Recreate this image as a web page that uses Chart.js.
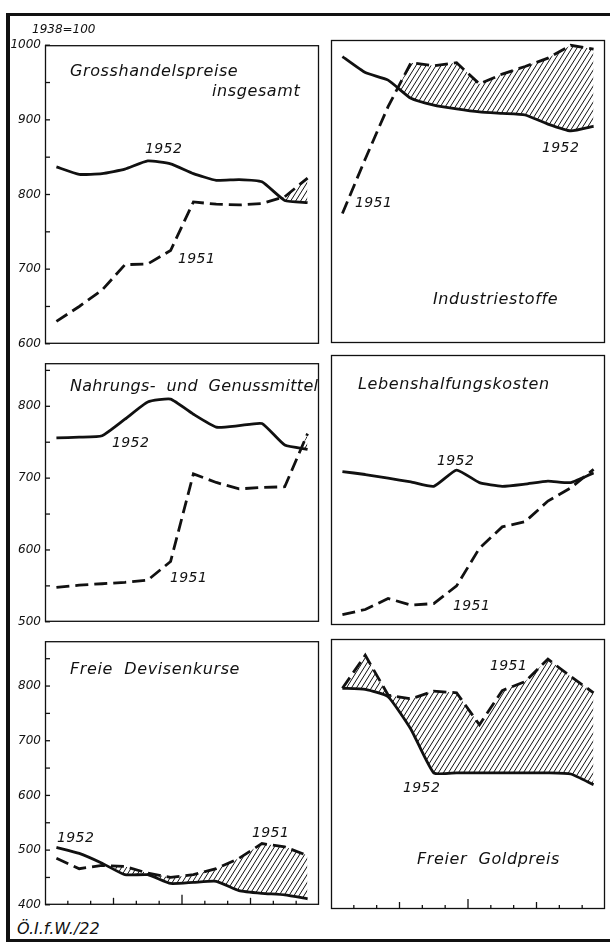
<!DOCTYPE html>
<html>
<head>
<meta charset="utf-8">
<script src="https://cdn.jsdelivr.net/npm/chart.js@4.4.0/dist/chart.umd.min.js"></script>
<style>
  body { margin: 0; background: #fff; }
  #page { position: relative; width: 610px; height: 945px; overflow: hidden; background: #fff; }
  canvas { position: absolute; }
  .bar { position: absolute; background: #111; }
  .t { position: absolute; font-family: "DejaVu Sans", sans-serif; font-style: italic; color: #111;
       white-space: pre; line-height: 1; }
  .title { font-size: 16px; letter-spacing: 0.6px; }
  .yr { font-size: 14px; letter-spacing: 0.4px; }
</style>
</head>
<body>
<div id="page">
  <div class="bar" style="left:6px;top:13px;width:604px;height:3px"></div>
  <div class="bar" style="left:6px;top:13px;width:4px;height:929px"></div>
  <div class="bar" style="left:6px;top:939px;width:604px;height:3px"></div>

  <canvas id="c1" width="320" height="321" style="left:0;top:34px"></canvas>
  <canvas id="c2" width="288" height="319" style="left:322px;top:32px"></canvas>
  <canvas id="c3" width="320" height="281" style="left:0;top:352px"></canvas>
  <canvas id="c4" width="288" height="286" style="left:322px;top:347px"></canvas>
  <canvas id="c5" width="320" height="286" style="left:0;top:630px"></canvas>
  <canvas id="c6" width="288" height="286" style="left:322px;top:631px"></canvas>

  <div class="t" style="left:32px;top:23px;font-size:12px">1938=100</div>
  <div class="t" style="left:17px;top:921px;font-size:16px">Ö.I.f.W./22</div>

  <div class="t title" style="left:70px;top:63px">Grosshandelspreise</div>
  <div class="t title" style="left:212px;top:83px">insgesamt</div>
  <div class="t title" style="left:433px;top:291px">Industriestoffe</div>
  <div class="t title" style="left:70px;top:378px;letter-spacing:0.3px">Nahrungs-  und  Genussmittel</div>
  <div class="t title" style="left:358px;top:376px">Lebenshalfungskosten</div>
  <div class="t title" style="left:70px;top:661px">Freie  Devisenkurse</div>
  <div class="t title" style="left:417px;top:851px">Freier  Goldpreis</div>

  <div class="t yr" style="left:145px;top:141px">1952</div>
  <div class="t yr" style="left:178px;top:251px">1951</div>
  <div class="t yr" style="left:542px;top:140px">1952</div>
  <div class="t yr" style="left:355px;top:195px">1951</div>
  <div class="t yr" style="left:112px;top:435px">1952</div>
  <div class="t yr" style="left:170px;top:570px">1951</div>
  <div class="t yr" style="left:437px;top:453px">1952</div>
  <div class="t yr" style="left:453px;top:598px">1951</div>
  <div class="t yr" style="left:57px;top:830px">1952</div>
  <div class="t yr" style="left:252px;top:825px">1951</div>
  <div class="t yr" style="left:490px;top:658px">1951</div>
  <div class="t yr" style="left:403px;top:780px">1952</div>
</div>

<script>
// months Jan..Dec, index 1938 = 100
const months = ['Jan', 'Feb', 'Mär', 'Apr', 'Mai', 'Jun', 'Jul', 'Aug', 'Sep', 'Okt', 'Nov', 'Dez'];

const gross1951 = [630, 650, 672, 706, 707, 725, 790, 787, 786, 788, 797, 822];
const gross1952 = [837, 827, 828, 834, 845, 841, 828, 819, 820, 817, 792, 789];

const indu1951 = [771, 843, 912, 970, 966, 970, 942, 955, 965, 976, 993, 988];
const indu1952 = [978, 957, 947, 923, 914, 909, 905, 903, 901, 889, 880, 886];

const nahr1951 = [548, 551, 553, 555, 558, 584, 706, 694, 685, 687, 688, 762];
const nahr1952 = [756, 757, 759, 782, 806, 810, 789, 771, 773, 776, 746, 740];

const leben1951 = [514, 521, 536, 527, 529, 553, 604, 633, 640, 668, 686, 711];
const leben1952 = [708, 704, 699, 694, 688, 710, 693, 688, 691, 695, 693, 706];

const devi1951 = [485, 466, 472, 470, 458, 450, 455, 466, 485, 512, 506, 490];
const devi1952 = [505, 494, 476, 455, 455, 439, 441, 443, 426, 421, 418, 411];

const gold1951 = [794, 853, 782, 775, 789, 786, 729, 790, 806, 846, 815, 786];
const gold1952 = [794, 792, 779, 721, 643, 643, 643, 643, 643, 643, 641, 622];

const ink = '#111';

function makeHatch() {
	let c = document.createElement('canvas');
	c.width = 5; c.height = 8;
	let g = c.getContext('2d');
	g.strokeStyle = ink;
	g.lineWidth = 1;
	for (let off = -5; off <= 5; off += 5) {
		g.beginPath();
		g.moveTo(-5 + off, 16);
		g.lineTo(10 + off, -8);
		g.stroke();
	}
	return g.createPattern(c, 'repeat');
}
const hatch = makeHatch();

// panel frame + inward tick marks
const panelFrame = {
	id: 'panelFrame',
	afterDraw(chart, args, opts) {
		const ctx = chart.ctx, a = chart.chartArea;
		const line = (x1, y1, x2, y2) => { ctx.beginPath(); ctx.moveTo(x1, y1); ctx.lineTo(x2, y2); ctx.stroke(); };
		ctx.save();
		ctx.strokeStyle = ink;
		ctx.lineWidth = 1.3;
		ctx.strokeRect(a.left + 0.5, a.top + 0.5, a.right - a.left - 1, a.bottom - a.top - 1);
		if (opts.yTicks) {
			const y = chart.scales.y;
			y.ticks.forEach(t => {
				if (t.value % 50) return;
				const py = y.getPixelForValue(t.value);
				line(a.left, py, a.left + 5, py);
			});
		}
		if (opts.xTicks) {
			const x = chart.scales.x;
			for (let i = 1; i < months.length; i++) {
				const px = (x.getPixelForValue(i - 1) + x.getPixelForValue(i)) / 2;
				const len = i === 6 ? 10 : (i % 3 === 0 ? 7 : 4);
				line(px, a.bottom, px, a.bottom - len);
			}
		}
		ctx.restore();
	}
};

function panel(id, s1951, s1952, yMin, yMax, leftCol, bottomRow) {
	return new Chart(document.getElementById(id), {
		type: 'line',
		data: {
			labels: months,
			datasets: [{
				label: '1951',
				data: s1951,
				borderColor: ink,
				borderWidth: 2.8,
				borderDash: [13, 6],
				pointRadius: 0,
				tension: 0,
				fill: { target: 1, above: hatch, below: 'rgba(0,0,0,0)' }
			}, {
				label: '1952',
				data: s1952,
				borderColor: ink,
				borderWidth: 2.8,
				borderJoinStyle: 'round',
				pointRadius: 0,
				tension: 0.15,
				fill: false
			}]
		},
		options: {
			responsive: false,
			animation: false,
			devicePixelRatio: 1,
			layout: { padding: leftCol ? { left: 0, right: 1, top: 8, bottom: 8 } : { left: 9, right: 5, top: 8, bottom: 8 } },
			plugins: {
				legend: { display: false },
				tooltip: { enabled: false },
				panelFrame: { yTicks: leftCol, xTicks: bottomRow }
			},
			scales: {
				x: { display: false, offset: true },
				y: {
					display: leftCol,
					min: yMin,
					max: yMax,
					afterFit: s => { s.width = leftCol ? 45 : 0; },
					grid: { display: false, drawTicks: false },
					border: { display: false },
					ticks: {
						stepSize: 50,
						includeBounds: false,
						padding: 4,
						color: ink,
						font: { family: 'DejaVu Sans', size: 12, style: 'italic' },
						callback: v => (v % 100 === 0 ? v : '')
					}
				}
			}
		},
		plugins: [panelFrame]
	});
}

panel('c1', gross1951, gross1952, 600, 1000, true, false);
panel('c2', indu1951, indu1952, 600, 1000, false, false);
panel('c3', nahr1951, nahr1952, 500, 860, true, false);
panel('c4', leben1951, leben1952, 500, 866, false, false);
panel('c5', devi1951, devi1952, 400, 882, true, true);
panel('c6', gold1951, gold1952, 400, 882, false, true);
</script>
</body>
</html>
